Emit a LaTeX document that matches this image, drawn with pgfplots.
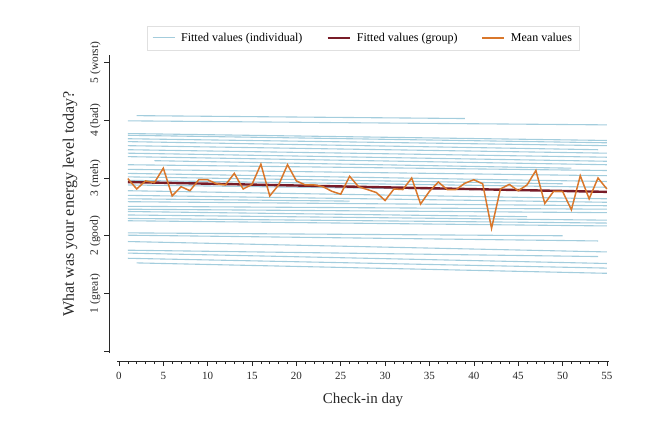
\documentclass[border=0pt]{standalone}
\usepackage{pgfplots}
\pgfplotsset{compat=1.18}
\usepackage{fontspec}
\setmainfont{Liberation Serif}
\definecolor{indiv}{RGB}{140,192,212}
\definecolor{grp}{RGB}{120,28,40}
\definecolor{meanc}{RGB}{217,119,43}
\definecolor{axc}{RGB}{40,40,40}
\begin{document}
\begin{tikzpicture}
\begin{axis}[
  scale only axis, width=492pt, height=298pt,
  xmin=-0.22, xmax=55.24, ymin=-0.03, ymax=5.13,
  axis x line=bottom, axis y line=left,
  axis x line shift=8pt, axis y line shift=8pt,
  axis line style={-, draw=axc, line width=0.6pt},
  xtick={0,5,...,55}, minor x tick num=4,
  ytick={0,1,2,3,4,5},
  yticklabels={,1 (great),2 (good),3 (meh),4 (bad),5 (worst)},
  tick align=outside, major tick length=5pt, minor tick length=3pt,
  tick style={axc, line width=0.6pt},
  /pgf/number format/assume math mode=true,
  xticklabel style={font=\fontsize{11}{13}\selectfont, text=axc, yshift=-3pt},
  yticklabel style={font=\fontsize{11.5}{13}\selectfont, text=axc, rotate=90, anchor=south},
  xlabel={Check-in day},
  ylabel={What was your energy level today?},
  xlabel style={font=\fontsize{15}{18}\selectfont, text=axc, at={(axis description cs:0.5,-0.158)}, anchor=center},
  ylabel style={font=\fontsize{16}{19}\selectfont, text=axc, at={(axis description cs:-0.0955,0.5)}, anchor=center},
  legend style={at={(axis description cs:0.5,1)}, anchor=south, yshift=5pt,
    draw=black!12, legend columns=3, font=\fontsize{12}{14}\selectfont,
    inner xsep=5pt, inner ysep=5pt,
    /tikz/every odd column/.append style={column sep=4pt},
    /tikz/every even column/.append style={column sep=22pt}},
  legend image code/.code={\draw[#1] (0pt,0pt) -- (22pt,0pt);},
  ind/.style={indiv, opacity=0.8, line width=1.1pt, forget plot},
]
\addplot[indiv, line width=1.1pt, opacity=0.8] coordinates {(1,3.99) (55,3.92)};
\addlegendentry{Fitted values (individual)}
\addplot[ind] coordinates {(2,4.08) (39,4.03)};
\addplot[ind] coordinates {(1,3.77) (55,3.65)};
\addplot[ind] coordinates {(1,3.74) (55,3.61)};
\addplot[ind] coordinates {(1,3.68) (55,3.56)};
\addplot[ind] coordinates {(1,3.63) (54,3.49)};
\addplot[ind] coordinates {(1,3.56) (55,3.43)};
\addplot[ind] coordinates {(1,3.49) (55,3.36)};
\addplot[ind] coordinates {(1,3.43) (55,3.29)};
\addplot[ind] coordinates {(1,3.37) (55,3.23)};
\addplot[ind] coordinates {(4,3.30) (51,3.17)};
\addplot[ind] coordinates {(1,3.23) (55,3.13)};
\addplot[ind] coordinates {(1,3.15) (55,3.04)};
\addplot[ind] coordinates {(1,3.08) (55,2.94)};
\addplot[ind] coordinates {(1,3.02) (50,2.90)};
\addplot[ind] coordinates {(1,2.96) (55,2.84)};
\addplot[ind] coordinates {(1,2.88) (40,2.80)};
\addplot[ind] coordinates {(1,2.78) (55,2.64)};
\addplot[ind] coordinates {(1,2.70) (55,2.58)};
\addplot[ind] coordinates {(1,2.64) (26,2.60)};
\addplot[ind] coordinates {(1,2.59) (55,2.52)};
\addplot[ind] coordinates {(1,2.51) (55,2.46)};
\addplot[ind] coordinates {(1,2.46) (55,2.40)};
\addplot[ind] coordinates {(1,2.42) (46,2.33)};
\addplot[ind] coordinates {(1,2.36) (55,2.27)};
\addplot[ind] coordinates {(1,2.30) (55,2.22)};
\addplot[ind] coordinates {(1,2.26) (55,2.17)};
\addplot[ind] coordinates {(1,2.05) (50,2.00)};
\addplot[ind] coordinates {(1,2.01) (54,1.91)};
\addplot[ind] coordinates {(1,1.90) (55,1.72)};
\addplot[ind] coordinates {(1,1.75) (54,1.64)};
\addplot[ind] coordinates {(1,1.70) (55,1.52)};
\addplot[ind] coordinates {(1,1.61) (55,1.44)};
\addplot[ind] coordinates {(2,1.53) (55,1.35)};
\addplot[grp, line width=2.4pt] coordinates {(1,2.93) (55,2.76)};
\addlegendentry{Fitted values (group)}
\addplot[meanc, line width=1.5pt] coordinates {
(1,2.99) (2,2.81) (3,2.95) (4,2.92) (5,3.17) (6,2.69) (7,2.85) (8,2.78) (9,2.97) (10,2.97)
(11,2.90) (12,2.88) (13,3.08) (14,2.81) (15,2.89) (16,3.24) (17,2.69) (18,2.88) (19,3.23) (20,2.95)
(21,2.88) (22,2.88) (23,2.85) (24,2.77) (25,2.72) (26,3.03) (27,2.85) (28,2.80) (29,2.75) (30,2.61)
(31,2.81) (32,2.80) (33,3.00) (34,2.55) (35,2.77) (36,2.93) (37,2.80) (38,2.80) (39,2.91) (40,2.97)
(41,2.90) (42,2.13) (43,2.81) (44,2.89) (45,2.78) (46,2.88) (47,3.13) (48,2.56) (49,2.77) (50,2.77)
(51,2.45) (52,3.04) (53,2.64) (54,3.00) (55,2.81)};
\addlegendentry{Mean values}
\end{axis}
\pgfresetboundingbox
\path[use as bounding box] (-117pt,-83pt) rectangle (549pt,353pt);
\end{tikzpicture}
\end{document}
